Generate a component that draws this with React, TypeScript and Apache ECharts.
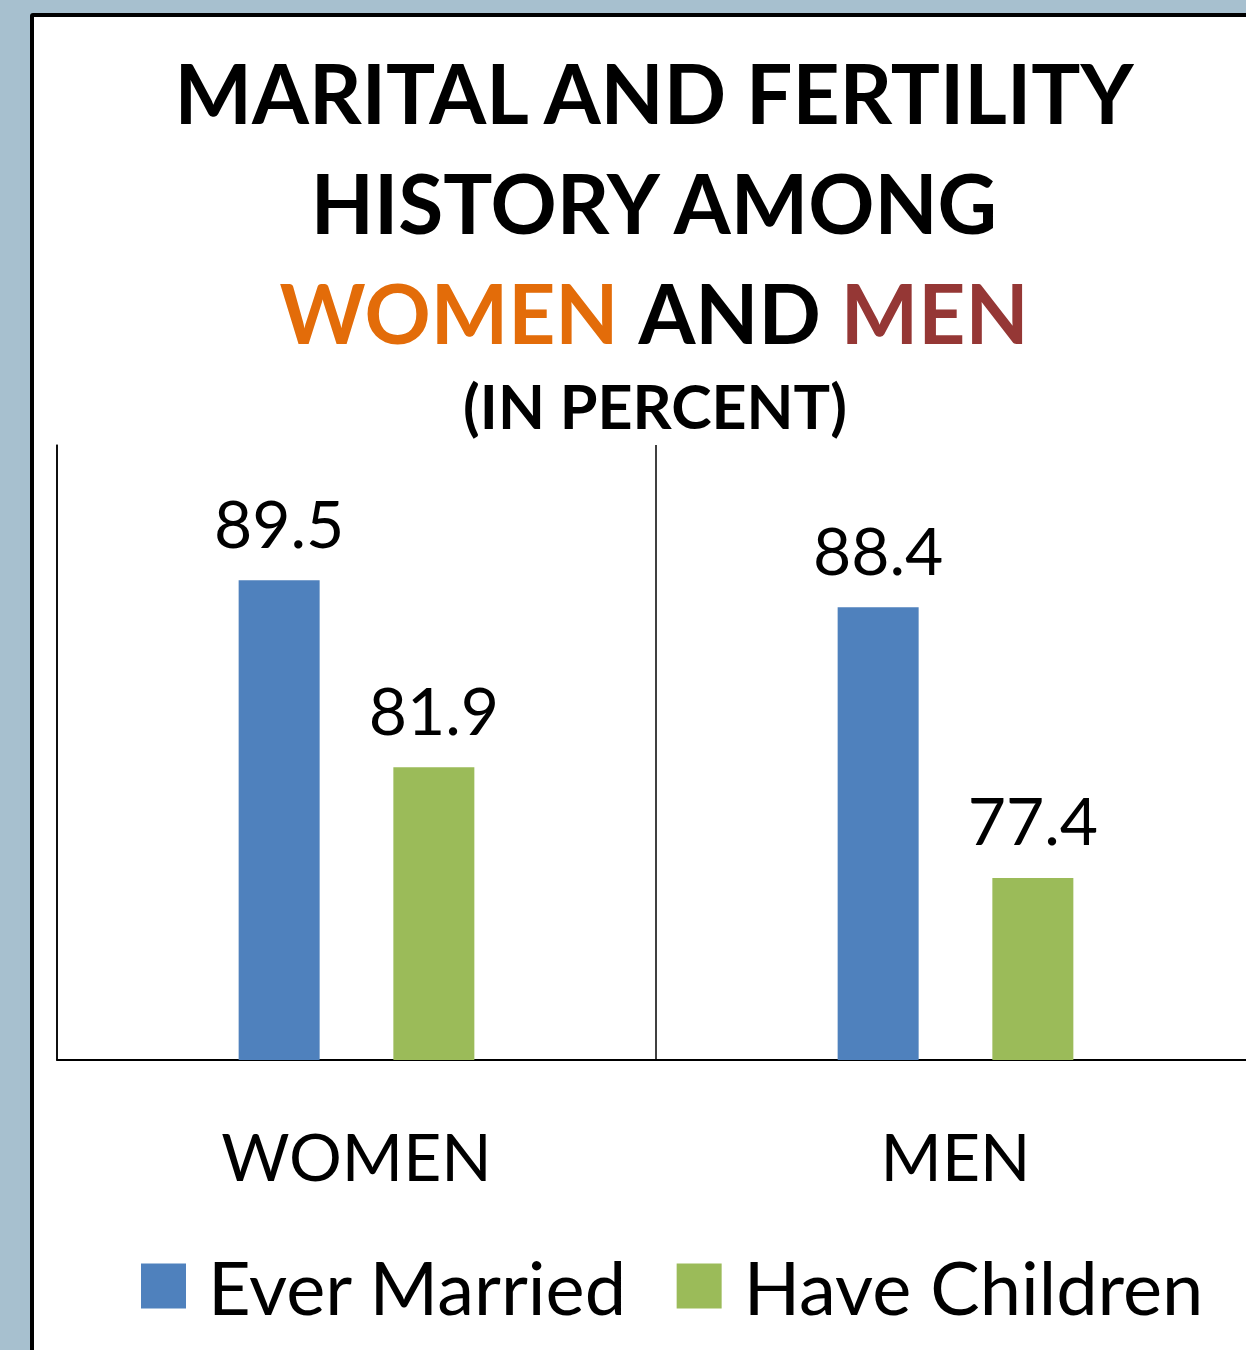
import React, { useEffect, useRef } from "react";
import * as echarts from "echarts";

const categories = ["WOMEN", "MEN"];
const everMarried = [89.5, 88.4];
const haveChildren = [81.9, 77.4];
const seriesNames = ["Ever Married", "Have Children"];
const titleLines = ["MARITAL AND FERTILITY", "HISTORY AMONG"];

const FONT = "Lato, 'Open Sans', sans-serif";
const CHART_W = 1320;

export default function App() {
  const ref = useRef<HTMLDivElement>(null);
  useEffect(() => {
    document.body.style.margin = "0";
    const chart = echarts.init(ref.current!, null, { renderer: "svg" });
    chart.setOption({
      animation: false,
      backgroundColor: "transparent",
      textStyle: { fontFamily: FONT },
      graphic: [
        {
          type: "text",
          x: 654,
          y: 92,
          style: { text: titleLines[0], font: `bold 82px ${FONT}`, fill: "#000", align: "center", verticalAlign: "middle" },
        },
        {
          type: "text",
          x: 654,
          y: 202,
          style: { text: titleLines[1], font: `bold 82px ${FONT}`, fill: "#000", align: "center", verticalAlign: "middle" },
        },
        {
          type: "text",
          x: 654,
          y: 312,
          style: {
            text: "{w|WOMEN} {a|AND} {m|MEN}",
            align: "center",
            verticalAlign: "middle",
            rich: {
              w: { fontFamily: FONT, fontWeight: "bold", fontSize: 82, fill: "#e36c09", color: "#e36c09" },
              a: { fontFamily: FONT, fontWeight: "bold", fontSize: 82, fill: "#000", color: "#000" },
              m: { fontFamily: FONT, fontWeight: "bold", fontSize: 82, fill: "#953735", color: "#953735" },
            },
            font: `bold 82px ${FONT}`,
          },
        },
        {
          type: "text",
          x: 655,
          y: 405,
          style: { text: "(IN PERCENT)", font: `bold 61px ${FONT}`, fill: "#000", align: "center", verticalAlign: "middle" },
        },
      ],
      grid: { left: 57, top: 445, right: CHART_W - 1255, height: 615, containLabel: false },
      xAxis: {
        type: "category",
        data: categories,
        boundaryGap: true,
        axisLine: { show: true, lineStyle: { color: "#000", width: 2 } },
        axisTick: { show: false },
        splitLine: { show: true, lineStyle: { color: "#000", width: 1.5 } },
        axisLabel: { fontSize: 66, color: "#000", margin: 62, fontFamily: FONT },
      },
      yAxis: {
        type: "value",
        min: 70,
        max: 95,
        axisLine: { show: true, lineStyle: { color: "#000", width: 1.5 } },
        axisTick: { show: false },
        axisLabel: { show: false },
        splitLine: { show: false },
      },
      legend: {
        data: seriesNames,
        left: 141,
        top: 1249,
        padding: 0,
        itemWidth: 45,
        itemHeight: 45,
        itemGap: 49,
        icon: "rect",
        textStyle: { fontSize: 74, color: "#000", fontFamily: FONT, padding: [0, 0, 0, 17] },
      },
      series: [
        {
          name: seriesNames[0],
          type: "bar",
          data: everMarried,
          barWidth: 81,
          barGap: "91%",
          itemStyle: { color: "#4f81bd" },
          label: { show: true, position: "top", fontSize: 66, color: "#000", distance: 25, fontFamily: FONT },
        },
        {
          name: seriesNames[1],
          type: "bar",
          data: haveChildren,
          barWidth: 81,
          barGap: "91%",
          itemStyle: { color: "#9bbb59" },
          label: { show: true, position: "top", fontSize: 66, color: "#000", distance: 25, fontFamily: FONT },
        },
      ],
    });
    return () => chart.dispose();
  }, []);

  return (
    <div style={{ position: "absolute", left: 0, top: 0, width: 1246, height: 1350, background: "#a7c0cf", overflow: "hidden" }}>
      <div
        style={{
          position: "absolute",
          left: 30,
          top: 13,
          width: 1300,
          height: 1400,
          border: "4px solid #000",
          borderRadius: 3,
          background: "#fff",
        }}
      />
      <div ref={ref} style={{ position: "absolute", left: 0, top: 0, width: CHART_W, height: 1350 }} />
    </div>
  );
}
